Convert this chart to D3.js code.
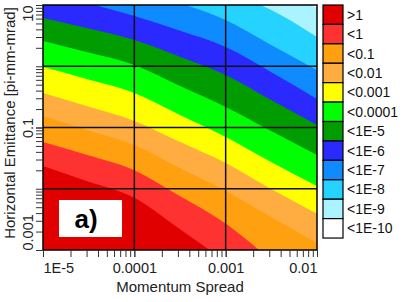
<!DOCTYPE html>
<html>
<head>
<meta charset="utf-8">
<script src="https://cdn.jsdelivr.net/npm/d3@7"></script>
<style>
  body { margin: 0; background: #fff; }
  svg { display: block; font-family: 'Liberation Sans', Arial, sans-serif; }
</style>
</head>
<body>
<div id="viz"></div>
<script>
// momentum spread samples along each contour
const spreads = [1e-5, 3e-5, 1e-4, 3e-4, 1e-3, 3e-3, 1e-2];

// emittance [pi-mm-mrad] where the value drops through each level
const edge1 = [0.0235, 0.0134, 0.0071, 0.0023, 0.00064, 0.00018, 0.00005];
const edge1e1 = [0.058, 0.036, 0.020, 0.0079, 0.0027, 0.00074, 0.0002];
const edge1e2 = [0.154, 0.091, 0.052, 0.0226, 0.0092, 0.0036, 0.0013];
const edge1e3 = [0.366, 0.224, 0.128, 0.060, 0.0263, 0.0103, 0.0039];
const edge1e4 = [0.97, 0.62, 0.366, 0.166, 0.070, 0.0284, 0.0111];
const edge1e5 = [2.58, 1.71, 1.05, 0.494, 0.216, 0.091, 0.0356];
const edge1e6 = [6.13, 4.21, 2.68, 1.47, 0.72, 0.292, 0.110];
const edge1e7 = [16.9, 10.8, 6.61, 3.91, 2.06, 0.84, 0.292];
const edge1e8 = [54, 31, 18.9, 11, 5.69, 2.31, 0.87];
const edge1e9 = [160, 100, 65, 35, 16.3, 8.6, 3.0];
const edge1e10 = [500, 300, 200, 120, 60, 24, 8.9];

const levels = ['>1', '<1', '<0.1', '<0.01', '<0.001', '<0.0001',
  '<1E-5', '<1E-6', '<1E-7', '<1E-8', '<1E-9', '<1E-10'];
const levelColors = ['#e00000', '#ff3232', '#ffa010', '#ffac40', '#ffff00', '#00ff00',
  '#009c00', '#2a2aff', '#0e8cff', '#26d2ff', '#aaf3ff', '#ffffff'];

const xTicks = [1e-5, 1e-4, 1e-3, 1e-2];
const xTickLabels = ['1E-5', '0.0001', '0.001', '0.01'];
const yTicks = [10, 0.1, 0.001];
const yTickLabels = ['10', '0.1', '0.001'];
const xGrid = [1e-4, 1e-3];
const yGrid = [1, 0.1, 0.01];

const WIDTH = 407;
const HEIGHT = 302;
const MARGIN = {
  top: 5, right: 90, bottom: 52, left: 43
};
const PLOT_W = WIDTH - MARGIN.left - MARGIN.right;
const PLOT_H = HEIGHT - MARGIN.top - MARGIN.bottom;

const edges = [edge1, edge1e1, edge1e2, edge1e3, edge1e4, edge1e5,
  edge1e6, edge1e7, edge1e8, edge1e9, edge1e10];

const svg = d3.select('#viz').append('svg')
  .attr('width', WIDTH)
  .attr('height', HEIGHT);

const x = d3.scaleLog().domain([1e-5, 1e-2]).range([0, PLOT_W]);
const y = d3.scaleLog().domain([1e-3, 10]).range([PLOT_H, 0]);

svg.append('defs').append('clipPath')
  .attr('id', 'plot-clip')
  .append('rect')
  .attr('width', PLOT_W)
  .attr('height', PLOT_H);

const inner = svg.append('g')
  .attr('transform', `translate(${MARGIN.left},${MARGIN.top})`);

const bands = inner.append('g').attr('clip-path', 'url(#plot-clip)');

bands.append('rect')
  .attr('width', PLOT_W)
  .attr('height', PLOT_H)
  .attr('fill', levelColors[0]);

// each band covers everything above its lower edge, later bands paint over
const area = d3.area()
  .x((d, i) => x(spreads[i]))
  .y0(d => y(d))
  .y1(-20)
  .curve(d3.curveMonotoneX);

bands.selectAll('.band')
  .data(edges)
  .join('path')
  .attr('class', 'band')
  .attr('d', area)
  .attr('fill', (d, i) => levelColors[i + 1]);

// panel label
inner.append('rect')
  .attr('x', 16)
  .attr('y', 195)
  .attr('width', 63)
  .attr('height', 37)
  .attr('fill', '#fff');
inner.append('text')
  .attr('x', 43)
  .attr('y', 223)
  .attr('text-anchor', 'middle')
  .attr('font-size', 26)
  .attr('font-weight', 'bold')
  .text('a)');

// grid
inner.selectAll('.vgrid')
  .data(xGrid)
  .join('line')
  .attr('x1', d => x(d))
  .attr('x2', d => x(d))
  .attr('y1', 0)
  .attr('y2', PLOT_H)
  .attr('stroke', '#111')
  .attr('stroke-width', 1.5);
inner.selectAll('.hgrid')
  .data(yGrid)
  .join('line')
  .attr('y1', d => y(d))
  .attr('y2', d => y(d))
  .attr('x1', 0)
  .attr('x2', PLOT_W)
  .attr('stroke', '#111')
  .attr('stroke-width', 1.5);

inner.append('rect')
  .attr('width', PLOT_W)
  .attr('height', PLOT_H)
  .attr('fill', 'none')
  .attr('stroke', '#000')
  .attr('stroke-width', 1.5);

// axes: minor ticks then labelled majors
const xMinor = inner.append('g')
  .attr('transform', `translate(0,${PLOT_H})`)
  .call(d3.axisBottom(x).tickValues(x.ticks()).tickFormat('').tickSize(7).tickSizeOuter(0));
const xMajor = inner.append('g')
  .attr('transform', `translate(0,${PLOT_H})`)
  .call(d3.axisBottom(x).tickValues(xTicks).tickFormat((d, i) => xTickLabels[i]).tickSize(7));
const yMinor = inner.append('g')
  .call(d3.axisLeft(y).tickValues(y.ticks()).tickFormat('').tickSize(7).tickSizeOuter(0));
const yMajor = inner.append('g')
  .call(d3.axisLeft(y).tickValues(yTicks).tickFormat((d, i) => yTickLabels[i]).tickSize(7));

[xMinor, xMajor, yMinor, yMajor].forEach(g => {
  g.select('.domain').remove();
  g.selectAll('line').attr('stroke', '#333');
});

xMajor.selectAll('text')
  .attr('y', 13)
  .attr('font-family', null)
  .attr('font-size', 14.5)
  .attr('fill', '#222')
  .attr('text-anchor', (d, i) => (i === 0 ? 'start' : (i === xTicks.length - 1 ? 'end' : 'middle')));

yMajor.selectAll('text')
  .attr('x', 0)
  .attr('y', -10)
  .attr('dy', null)
  .attr('transform', 'rotate(-90)')
  .attr('font-family', null)
  .attr('font-size', 14.5)
  .attr('fill', '#222')
  .attr('text-anchor', (d, i) => (i === 0 ? 'end' : (i === yTicks.length - 1 ? 'start' : 'middle')));

// axis titles
svg.append('text')
  .attr('x', MARGIN.left + PLOT_W / 2)
  .attr('y', 292)
  .attr('text-anchor', 'middle')
  .attr('font-size', 15)
  .attr('fill', '#222')
  .text('Momentum Spread');
svg.append('text')
  .attr('transform', 'translate(15,123) rotate(-90)')
  .attr('text-anchor', 'middle')
  .attr('font-size', 15)
  .attr('fill', '#222')
  .text('Horizontal Emittance [pi-mm-mrad]');

// legend
const BOX_H = 19.42;
const legend = svg.append('g')
  .attr('transform', 'translate(323,5)');
const items = legend.selectAll('.item')
  .data(levels)
  .join('g')
  .attr('class', 'item')
  .attr('transform', (d, i) => `translate(0,${i * BOX_H})`);
items.append('rect')
  .attr('width', 20)
  .attr('height', BOX_H)
  .attr('fill', (d, i) => levelColors[i])
  .attr('stroke', '#000')
  .attr('stroke-width', 1.2);
items.append('text')
  .attr('x', 24)
  .attr('y', BOX_H / 2 + 5)
  .attr('font-size', 14)
  .attr('fill', '#111')
  .text(d => d);
</script>
</body>
</html>
